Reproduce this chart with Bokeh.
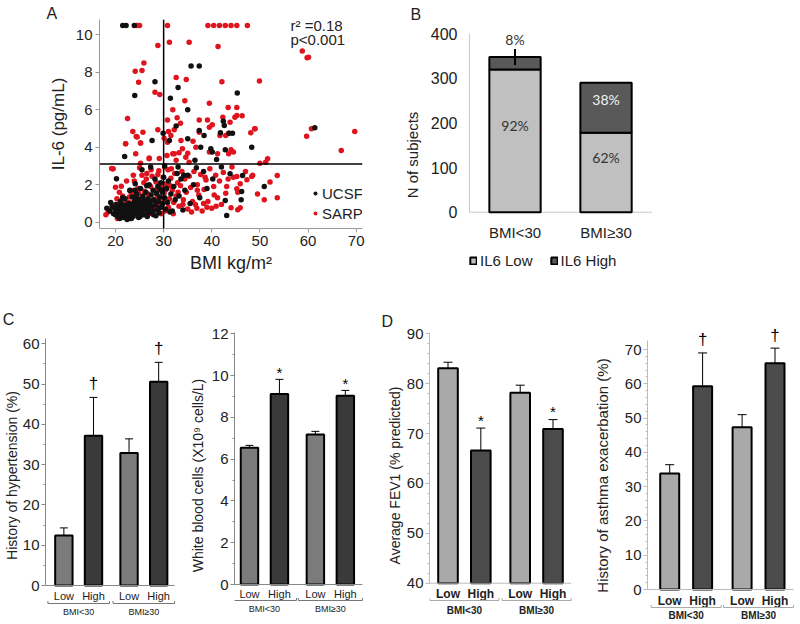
import math
from bokeh.plotting import figure
from bokeh.layouts import row, column
from bokeh.models import (Range1d, FixedTicker, Label, Legend, LegendItem, Span,
                          Whisker, TeeHead, ColumnDataSource)
from bokeh.core.properties import value
from bokeh.embed import file_html
from bokeh.resources import INLINE

FONT = "Liberation Sans"

# ---------------- Panel A data (BMI vs IL-6) ----------------
ucsf_bmi = [21.5, 22.2, 23.9, 35.7, 37.4, 28.2, 33.0, 24.0, 31.4, 45.3,
            35.0, 42.4, 32.6, 61.4, 27.6, 29.9, 31.2, 35.0, 38.4, 42.6,
            44.3, 48.3, 37.7, 39.8, 40.1, 42.8, 21.9, 37.4, 43.6, 41.8,
            43.8, 46.4, 46.2, 46.1, 42.8, 43.1, 50.9, 27.3, 25.5, 30.2,
            33.0, 34.2, 36.5, 41.0, 42.0, 18.2, 18.8, 19.3, 19.6, 19.9,
            20.1, 20.3, 20.5, 20.6, 20.8, 21.0, 21.1, 21.3, 21.4, 21.6,
            21.7, 21.9, 22.0, 22.1, 22.3, 22.4, 22.6, 22.7, 22.9, 23.0,
            23.1, 23.2, 23.4, 23.5, 23.6, 23.8, 23.9, 24.0, 24.1, 24.2,
            24.4, 24.5, 24.6, 24.8, 24.9, 25.0, 25.2, 25.3, 25.4, 25.6,
            25.7, 25.9, 26.0, 26.1, 26.3, 26.4, 26.6, 26.7, 26.9, 27.0,
            27.1, 27.3, 27.4, 27.6, 27.8, 27.9, 28.0, 28.2, 28.3, 28.5,
            28.6, 28.8, 28.9, 29.1, 29.2, 29.4, 29.5, 29.7, 29.8, 30.0,
            30.2, 30.4, 30.6, 30.8, 31.0, 31.3, 31.5, 31.8, 32.1, 32.4,
            32.8, 33.2, 33.6, 34.0, 34.4, 35.0, 35.5, 36.2, 36.8, 37.5,
            38.3, 39.0, 40.2, 20.0, 20.9, 21.5, 22.5, 23.3, 24.3, 25.1,
            25.8, 26.8, 27.5, 28.4, 29.0, 19.0, 20.2, 23.0, 24.1, 22.8,
            20.7, 21.2, 22.2, 23.7, 24.7, 25.5, 26.2, 26.5, 27.7, 29.3]
ucsf_il6 = [10.5, 10.5, 10.5, 8.33, 8.33, 7.49, 7.19, 6.76, 6.62, 6.89,
            6.0, 5.39, 5.14, 5.04, 4.36, 4.75, 4.36, 4.45, 4.63, 5.16,
            4.75, 4.0, 4.0, 3.92, 3.74, 3.87, 3.5, 4.89, 4.75, 4.77,
            2.58, 2.49, 1.64, 1.2, 1.16, 0.36, 1.9, 2.95, 2.8, 3.0,
            2.95, 2.5, 3.3, 3.35, 2.95, 0.75, 0.6, 0.8, 0.45, 0.7,
            0.95, 0.55, 0.3, 0.85, 0.62, 1.1, 0.4, 0.75, 0.55, 0.9,
            0.25, 0.65, 1.25, 0.45, 0.8, 0.15, 0.6, 1.0, 0.35, 1.7,
            0.7, 0.5, 0.9, 1.35, 0.3, 0.65, 1.1, 0.45, 2.05, 0.8,
            1.5, 0.6, 0.95, 0.25, 1.2, 0.7, 1.8, 0.5, 1.0, 0.85,
            1.4, 0.4, 1.15, 0.65, 1.6, 0.9, 0.3, 1.25, 0.75, 2.0,
            1.05, 0.55, 1.45, 0.85, 1.7, 0.4, 1.2, 2.3, 0.95, 1.55,
            0.65, 1.9, 1.1, 0.5, 1.35, 2.1, 0.8, 1.6, 1.0, 2.4,
            1.3, 0.7, 1.8, 1.05, 2.2, 0.55, 1.5, 0.6, 1.9, 1.2,
            2.6, 1.4, 2.3, 0.65, 1.7, 2.5, 1.0, 2.0, 2.9, 1.3,
            2.7, 1.8, 2.3, 0.4, 0.2, 1.3, 0.95, 0.2, 1.3, 0.3,
            1.05, 0.5, 1.15, 0.35, 0.75, 1.05, 2.32, 1.69, 1.7, 0.55,
            0.5, 0.85, 0.3, 1.0, 0.4, 1.2, 0.85, 1.95, 0.6, 1.75]

sarp_bmi = [24.4, 25.0, 30.8, 39.2, 40.4, 41.6, 42.8, 44.0, 45.2, 47.4,
            28.8, 31.2, 35.3, 41.3, 58.8, 59.8, 60.1, 25.9, 24.1, 25.5,
            24.8, 32.6, 34.7, 42.1, 49.9, 28.2, 29.2, 34.4, 39.5, 31.9,
            43.4, 45.2, 22.5, 30.8, 32.8, 33.5, 37.4, 39.1, 40.1, 42.3,
            44.8, 45.2, 46.3, 48.9, 48.1, 59.7, 60.7, 69.7, 23.6, 24.3,
            25.7, 28.8, 31.0, 30.1, 32.2, 36.1, 41.7, 43.5, 43.8, 49.0,
            22.1, 25.2, 24.2, 27.0, 29.1, 30.7, 31.9, 33.2, 35.0, 39.5,
            44.0, 44.5, 43.5, 66.9, 50.0, 51.2, 51.6, 25.2, 30.8, 31.5,
            33.6, 37.4, 39.5, 36.7, 33.9, 32.2, 34.6, 41.2, 32.6, 35.3,
            42.9, 44.5, 45.2, 47.3, 48.3, 45.9, 45.2, 45.4, 43.1, 44.0,
            45.4, 45.9, 53.6, 52.1, 50.9, 53.6, 19.5, 20.0, 21.2, 23.8,
            20.3, 19.3, 18.0, 18.5, 20.4, 21.0, 21.5, 22.0, 22.3, 22.8,
            23.0, 23.3, 23.7, 24.0, 24.3, 24.7, 25.0, 25.3, 25.6, 25.9,
            26.2, 26.5, 26.8, 27.0, 27.3, 27.6, 27.9, 28.1, 28.4, 28.7,
            29.0, 29.3, 29.6, 29.9, 30.1, 30.3, 30.6, 30.9, 31.2, 31.5,
            31.8, 32.0, 32.3, 32.6, 32.9, 33.2, 33.5, 33.8, 34.1, 34.4,
            34.7, 35.0, 35.3, 35.6, 36.0, 36.3, 36.6, 37.0, 37.3, 37.7,
            38.0, 38.4, 38.8, 39.2, 39.6, 40.0, 40.4, 40.8, 41.2, 41.6,
            42.0, 42.4, 42.9, 43.4, 44.2, 47.0, 48.5, 49.5, 39.0, 40.9,
            38.3, 36.9, 22.5, 23.5, 24.5, 25.4, 26.0, 26.9, 27.7, 28.3,
            29.0, 29.5, 30.0, 30.5, 31.0, 31.4, 32.1, 33.0, 34.0, 21.8,
            22.9, 24.8, 26.4, 27.4, 28.8, 30.2, 31.6, 20.8, 23.9, 25.5,
            19.4, 27.0, 24.5, 22.1, 25.2, 19.2, 35.8, 37.0, 38.6, 40.5]
sarp_il6 = [10.5, 10.5, 10.5, 10.5, 10.5, 10.5, 10.5, 10.5, 10.5, 10.5,
            9.43, 9.6, 9.6, 9.38, 9.13, 8.77, 8.8, 8.5, 8.06, 8.1,
            7.47, 7.72, 7.62, 7.49, 7.53, 6.94, 6.81, 6.48, 6.35, 6.0,
            6.12, 6.12, 5.53, 5.46, 5.57, 5.28, 5.46, 5.46, 5.2, 5.6,
            5.6, 5.69, 5.68, 4.98, 4.77, 4.58, 4.99, 4.84, 4.84, 4.57,
            4.8, 4.93, 4.84, 4.48, 4.93, 4.32, 4.63, 4.75, 5.34, 4.99,
            4.19, 4.22, 3.65, 3.42, 3.4, 3.56, 3.65, 3.7, 3.68, 3.74,
            3.87, 3.74, 3.65, 3.83, 3.15, 3.2, 3.38, 3.15, 4.27, 4.63,
            4.36, 4.8, 5.07, 4.0, 3.92, 3.65, 3.47, 3.65, 3.3, 3.2,
            4.63, 2.4, 2.44, 2.26, 2.44, 2.05, 1.78, 1.6, 1.9, 0.77,
            0.66, 0.77, 2.49, 2.14, 1.2, 1.3, 2.85, 1.87, 1.92, 1.69,
            1.25, 0.9, 0.4, 0.55, 0.2, 0.5, 1.4, 0.35, 2.2, 1.05,
            0.2, 1.55, 2.5, 1.0, 0.35, 1.8, 2.9, 1.3, 0.6, 2.1,
            0.95, 2.6, 1.5, 0.45, 1.9, 2.45, 1.2, 0.7, 2.15, 1.4,
            2.75, 0.95, 1.85, 2.4, 1.55, 0.6, 2.05, 2.8, 1.25, 2.35,
            1.7, 0.45, 2.6, 1.4, 2.1, 0.85, 1.95, 2.7, 1.2, 2.3,
            1.6, 0.7, 2.45, 1.85, 1.1, 2.7, 0.95, 2.0, 1.45, 2.55,
            0.6, 1.75, 2.25, 1.1, 2.85, 0.75, 1.9, 2.5, 1.3, 2.2,
            0.95, 2.65, 1.55, 2.3, 2.95, 2.7, 2.5, 1.5, 0.8, 0.85,
            1.0, 0.75, 0.8, 0.65, 1.25, 0.9, 1.65, 1.0, 0.55, 1.7,
            1.15, 0.45, 1.25, 1.75, 0.8, 1.95, 1.05, 1.6, 0.95, 1.0,
            1.35, 1.55, 2.3, 2.8, 2.55, 2.95, 2.85, 1.6, 2.2, 2.5,
            2.85, 3.38, 4.54, 4.19, 4.22, 2.86, 0.55, 1.7, 2.4, 1.45]

bmi_cut = 30
il6_cut = 3.1
a_xticks = [20, 30, 40, 50, 60, 70]
a_yticks = [0, 2, 4, 6, 8, 10]
r2_text = "r\u00b2 =0.18"
p_text = "p<0.001"

# ---------------- Panel B data ----------------
b_groups = ["BMI<30", "BMI\u226530"]
b_low = [320, 178]
b_high = [28, 112]
b_low_pct = ["92%", "62%"]
b_high_pct = ["8%", "38%"]
b_yticks = [0, 100, 200, 300, 400]

# ---------------- Panels C / D data ----------------
groups = ["BMI<30", "BMI\u226530"]
levels = ["Low", "High"]
htn_mean = [12.4, 37.2, 32.9, 50.6]
htn_lo = [10.7, 27.7, 29.4, 45.9]
htn_hi = [14.3, 46.7, 36.4, 55.4]
htn_mark = ["", "\u2020", "", "\u2020"]
wbc_mean = [6.54, 9.12, 7.18, 9.04]
wbc_lo = [6.43, 8.43, 7.02, 8.8]
wbc_hi = [6.66, 9.82, 7.33, 9.29]
wbc_mark = ["", "*", "", "*"]
fev_mean = [83.1, 66.6, 78.2, 70.9]
fev_lo = [82.2, 62.1, 76.8, 68.9]
fev_hi = [84.3, 71.1, 79.7, 72.8]
fev_mark = ["", "*", "", "*"]
exa_mean = [33.8, 59.3, 47.3, 66.0]
exa_lo = [31.3, 49.6, 43.7, 61.2]
exa_hi = [36.4, 69.0, 51.0, 70.4]
exa_mark = ["", "\u2020", "", "\u2020"]


def make_fig(x0, x1, y0, y1, fl, fr, ft, fb, xa, ya, **kw):
    xv0, xp0, xv1, xp1 = xa
    sx = (xp1 - xp0) / (xv1 - xv0)
    yv0, yp0, yv1, yp1 = ya
    sy = (yp0 - yp1) / (yv1 - yv0)

    def fx(px):
        return xv0 + (px - xp0) / sx

    def fy(py):
        return yv0 + (yp0 - py) / sy

    p = figure(width=x1 - x0, height=y1 - y0,
               x_range=Range1d(fx(fl), fx(fr)), y_range=Range1d(fy(fb), fy(ft)),
               min_border_left=fl - x0, min_border_right=x1 - fr,
               min_border_top=ft - y0, min_border_bottom=y1 - fb,
               output_backend="svg", toolbar_location=None, tools="", **kw)
    if "frame_align" in p.properties():
        p.frame_align = False
    p.outline_line_color = None
    p.grid.visible = False
    p.background_fill_color = "white"
    p.border_fill_color = "white"
    return p, fx, fy, sx, sy


def style_axis(ax, color, tick_out=4, size="15px", standoff=3, ticks=True):
    ax.axis_line_color = color
    ax.major_tick_line_color = color if ticks else None
    ax.minor_tick_line_color = color if ticks else None
    ax.major_tick_out = tick_out
    ax.major_tick_in = 0
    ax.minor_tick_in = 0
    ax.minor_tick_out = 2
    ax.major_label_text_font = FONT
    ax.major_label_text_font_size = size
    ax.major_label_text_color = "#222222"
    ax.major_label_standoff = standoff
    ax.axis_label_text_font = FONT
    ax.axis_label_text_font_style = "normal"
    ax.axis_label_text_color = "#222222"


def letter(p, fx, fy, px, py, txt, side):
    p.add_layout(Label(x=fx(px), y=fy(py), text=txt, text_font=FONT,
                       text_font_size="16px", text_color="#222222",
                       text_baseline="top", text_align="left"), side)


# ================= Panel A =================
pA, fxA, fyA, sxA, syA = make_fig(0, 400, 0, 298, 99, 362, 19, 228,
                                  (20, 115, 70, 355.7), (0, 221.7, 10, 34.3))
r_sarp = pA.scatter(sarp_bmi, sarp_il6, size=5.5, fill_color="#e0141e", line_color=None)
r_ucsf = pA.scatter(ucsf_bmi, ucsf_il6, size=5.5, fill_color="#111111", line_color=None)
pA.add_layout(Span(location=bmi_cut, dimension="height", line_color="black", line_width=1.5))
pA.add_layout(Span(location=il6_cut, dimension="width", line_color="black", line_width=1.5))
for ax in (pA.xaxis[0], pA.yaxis[0]):
    style_axis(ax, "#9a9a9a", tick_out=4, size="15px", standoff=3)
pA.xaxis[0].ticker = FixedTicker(ticks=a_xticks)
pA.yaxis[0].ticker = FixedTicker(ticks=a_yticks)
pA.xaxis[0].axis_label = "BMI kg/m\u00b2"
pA.xaxis[0].axis_label_text_font_size = "18px"
pA.xaxis[0].axis_label_standoff = 4
pA.yaxis[0].axis_label = "IL-6 (pg/mL)"
pA.yaxis[0].axis_label_text_font_size = "17px"
pA.yaxis[0].axis_label_standoff = 5
legA = Legend(items=[LegendItem(label="UCSF", renderers=[r_ucsf]),
                     LegendItem(label="SARP", renderers=[r_sarp])],
              location=(211, 6), glyph_width=10, glyph_height=18, label_height=18,
              label_standoff=2, spacing=2, padding=0, margin=0,
              border_line_color=None, background_fill_alpha=0,
              label_text_font=FONT, label_text_font_size="15px", label_text_color="#222222")
pA.add_layout(legA)
pA.add_layout(Label(x=fxA(290), y=fyA(25), text=r2_text, text_font=FONT, text_font_size="15px",
                    text_color="#222222", text_baseline="alphabetic"))
pA.add_layout(Label(x=fxA(290), y=fyA(39), text=p_text, text_font=FONT, text_font_size="15px",
                    text_color="#222222", text_baseline="alphabetic"))
letter(pA, fxA, fyA, 46, 4, "A", "left")

# ================= Panel B =================
B_FL, B_FR = 463, 652
pB, fxB, fyB, sxB, syB = make_fig(400, 800, 0, 298, B_FL, B_FR, 33, 276,
                                  (1, 510, 2, 604), (0, 211.7, 400, 33.3), x_axis_location=None)
bx = list(range(1, len(b_groups) + 1))
b_tot = [l + h for l, h in zip(b_low, b_high)]
bw = 53 / sxB
pB.segment(x0=[fxB(B_FL)], y0=[0], x1=[fxB(B_FR)], y1=[0], line_color="#c8c8c8", line_width=1)
r_low = pB.vbar(x=bx, width=bw, bottom=0, top=b_low, fill_color="#c0c0c0",
                line_color="black", line_width=2)
r_high = pB.vbar(x=bx, width=bw, bottom=b_low, top=b_tot, fill_color="#595959",
                 line_color="black", line_width=2)
pB.text(x=bx, y=[l / 2 + 15 / syB for l in b_low], text=b_low_pct, text_align="center",
        text_baseline="middle", text_font=value("Lato"), text_font_size="14px", text_color="#333333")
in_x, in_y, in_t, out_x, out_y, out_t = [], [], [], [], [], []
for x, l, h, t in zip(bx, b_low, b_high, b_high_pct):
    if h * syB < 20:
        out_x.append(x); out_y.append(l + h); out_t.append(t)
    else:
        in_x.append(x); in_y.append(l + h / 2 + 8 / syB); in_t.append(t)
pB.text(x=in_x, y=in_y, text=in_t, text_align="center", text_baseline="middle",
        text_font=value("Lato"), text_font_size="14px", text_color="#f2f2f2")
pB.segment(x0=out_x, y0=[y - 8 / syB for y in out_y], x1=out_x, y1=[y + 8 / syB for y in out_y],
           line_color="black", line_width=2)
pB.text(x=out_x, y=[y + 17 / syB for y in out_y], text=out_t, text_align="center",
        text_baseline="middle", text_font=value("Lato"), text_font_size="14px", text_color="#333333")
pB.text(x=bx, y=[fyB(232)] * len(bx), text=b_groups, text_align="center", text_baseline="middle",
        text_font=value(FONT), text_font_size="15px", text_color="#222222")
style_axis(pB.yaxis[0], "#c8c8c8", tick_out=0, size="16px", standoff=12, ticks=False)
pB.yaxis[0].ticker = FixedTicker(ticks=b_yticks)
pB.yaxis[0].bounds = (b_yticks[0], b_yticks[-1])
pB.yaxis[0].axis_label = "N of subjects"
pB.yaxis[0].axis_label_text_font_size = "15px"
pB.yaxis[0].axis_label_standoff = 7
legB = Legend(items=[LegendItem(label="IL6 Low", renderers=[r_low]),
                     LegendItem(label="IL6 High", renderers=[r_high])],
              orientation="horizontal", location=(0, 7), glyph_width=8, glyph_height=9,
              label_height=12, label_standoff=3, spacing=17, padding=0, margin=0,
              border_line_color=None, background_fill_alpha=0,
              label_text_font=FONT, label_text_font_size="15px", label_text_color="#222222")
pB.add_layout(legB)
letter(pB, fxB, fyB, 402, 5, "B", "above")

# ================= Panels C / D =================
ROW2_Y0, ROW2_Y1 = 298, 624
ROW2_FT = 326
GROUP_STEP = 2.2


def bar_panel(cfg, means, lo, hi, marks):
    p, fx, fy, sx, sy = make_fig(cfg["x0"], cfg["x1"], ROW2_Y0, ROW2_Y1, cfg["fl"], cfg["fr"],
                                 ROW2_FT, ROW2_Y1, cfg["xa"], cfg["ya"], x_axis_location=None)
    base = cfg["base"]
    nlev = len(levels)
    pos = [g * GROUP_STEP + j for g in range(len(groups)) for j in range(nlev)]
    fills = [cfg["colors"][j] for g in range(len(groups)) for j in range(nlev)]
    p.vbar(x=pos, width=cfg["bw"] / sx, bottom=base, top=means, fill_color=fills,
           line_color="black", line_width=2)
    src = ColumnDataSource(dict(x=pos, lo=lo, hi=hi))
    p.add_layout(Whisker(source=src, base="x", lower="lo", upper="hi", dimension="height",
                         line_color="black", line_width=1,
                         upper_head=TeeHead(size=cfg["cap"], line_color="black", line_width=1),
                         lower_head=TeeHead(size=cfg["cap"], line_color="black", line_width=1)))
    p.text(x=pos, y=[h + cfg["mark_off"] / sy for h in hi], text=marks, text_align="center",
           text_baseline="middle", text_font=value(FONT), text_font_size=cfg["mark_size"],
           text_color="#000000")
    centers = [g * GROUP_STEP + (nlev - 1) / 2 for g in range(len(groups))]
    half = cfg["bh"] / sx
    p.segment(x0=[fx(cfg["fl"])], y0=[base], x1=[centers[-1] + half], y1=[base],
              line_color=cfg["axis_color"], line_width=1)
    style = "bold" if cfg["bold"] else "normal"
    p.text(x=pos, y=[fy(cfg["lev_y"])] * len(pos),
           text=[levels[j] for g in range(len(groups)) for j in range(nlev)],
           text_align="center", text_baseline="middle", text_font=value(FONT),
           text_font_size=cfg["lev_size"], text_font_style=style, text_color="#222222")
    yb = fy(cfg["br_y"])
    ends = [c - half for c in centers] + [c + half for c in centers]
    p.segment(x0=[c - half for c in centers], y0=[yb] * len(centers),
              x1=[c + half for c in centers], y1=[yb] * len(centers),
              line_color=cfg["br_color"], line_width=1)
    p.segment(x0=ends, y0=[yb] * len(ends), x1=ends, y1=[yb + 2.5 / sy] * len(ends),
              line_color=cfg["br_color"], line_width=1)
    p.text(x=centers, y=[fy(cfg["grp_y"])] * len(centers), text=groups, text_align="center",
           text_baseline="middle", text_font=value(FONT), text_font_size=cfg["grp_size"],
           text_font_style=style, text_color="#222222")
    ax = p.yaxis[0]
    style_axis(ax, cfg["axis_color"], tick_out=4, size="15px", standoff=2)
    ax.ticker = FixedTicker(ticks=cfg["ticks"], minor_ticks=cfg["minor"])
    ax.bounds = (base, fy(cfg["axis_top"]))
    ax.axis_label = cfg["title"]
    ax.axis_label_text_font_size = cfg["title_size"]
    ax.axis_label_standoff = cfg["title_standoff"]
    if cfg.get("letter"):
        lx, ly, lt = cfg["letter"]
        letter(p, fx, fy, lx, ly, lt, "above")
    return p


C_COLORS = ["#7b7b7b", "#3a3a3a"]
D_COLORS = ["#a9a9a9", "#4b4b4b"]

cfg_c1 = dict(x0=0, x1=186, fl=44, fr=181, axis_top=338, xa=(0, 62.5, 3.2, 158), ya=(0, 585, 60, 343.3),
              base=0, bw=17.5, bh=31, cap=8, colors=C_COLORS, axis_color="#888888", br_color="#777777",
              lev_y=595, br_y=603, grp_y=611, lev_size="11px", grp_size="9px", bold=False,
              ticks=[0, 10, 20, 30, 40, 50, 60], minor=[5, 15, 25, 35, 45, 55],
              mark_off=14, mark_size="17px",
              title="History of hypertension (%)", title_size="14px", title_standoff=0,
              letter=(1, 310, "C"))
cfg_c2 = dict(x0=186, x1=380, fl=232, fr=368, axis_top=331.7, xa=(0, 247.2, 3.2, 344.5),
              ya=(0, 584, 12, 333.3),
              base=0, bw=17.7, bh=32.5, cap=8, colors=C_COLORS, axis_color="#888888", br_color="#777777",
              lev_y=593, br_y=600, grp_y=608, lev_size="11px", grp_size="9px", bold=False,
              ticks=[0, 2, 4, 6, 8, 10, 12], minor=[1, 3, 5, 7, 9, 11],
              mark_off=7, mark_size="15px",
              title="White blood cells (X10\u2079 cells/L)", title_size="14px", title_standoff=3)
cfg_d1 = dict(x0=380, x1=590, fl=429, fr=576, axis_top=332.3, xa=(0, 447.5, 3.2, 552.5),
              ya=(40, 582.7, 90, 333.3),
              base=40, bw=19.6, bh=34.5, cap=9, colors=D_COLORS, axis_color="#bbbbbb", br_color="#aaaaaa",
              lev_y=593, br_y=600, grp_y=610, lev_size="12px", grp_size="10px", bold=True,
              ticks=[40, 50, 60, 70, 80, 90], minor=[42, 44, 46, 48, 52, 54, 56, 58, 62, 64, 66, 68,
                                                     72, 74, 76, 78, 82, 84, 86, 88],
              mark_off=8, mark_size="15px",
              title="Average FEV1 (% predicted)", title_size="14px", title_standoff=1,
              letter=(381, 312, "D"))
cfg_d2 = dict(x0=590, x1=800, fl=647, fr=798, axis_top=340, xa=(0, 669.2, 3.2, 774.5),
              ya=(0, 589, 70, 349),
              base=0, bw=19, bh=35, cap=9, colors=D_COLORS, axis_color="#bbbbbb", br_color="#aaaaaa",
              lev_y=600, br_y=607, grp_y=615, lev_size="12px", grp_size="10px", bold=True,
              ticks=[0, 10, 20, 30, 40, 50, 60, 70],
              minor=[v for v in range(2, 72, 2) if v % 10 != 0],
              mark_off=13, mark_size="17px",
              title="History of asthma exacerbation (%)", title_size="15px", title_standoff=11)

pC1 = bar_panel(cfg_c1, htn_mean, htn_lo, htn_hi, htn_mark)
pC2 = bar_panel(cfg_c2, wbc_mean, wbc_lo, wbc_hi, wbc_mark)
pD1 = bar_panel(cfg_d1, fev_mean, fev_lo, fev_hi, fev_mark)
pD2 = bar_panel(cfg_d2, exa_mean, exa_lo, exa_hi, exa_mark)

layout = column(row(pA, pB), row(pC1, pC2, pD1, pD2))
with open("out.html", "w") as f:
    f.write(file_html(layout, INLINE, "chart"))
